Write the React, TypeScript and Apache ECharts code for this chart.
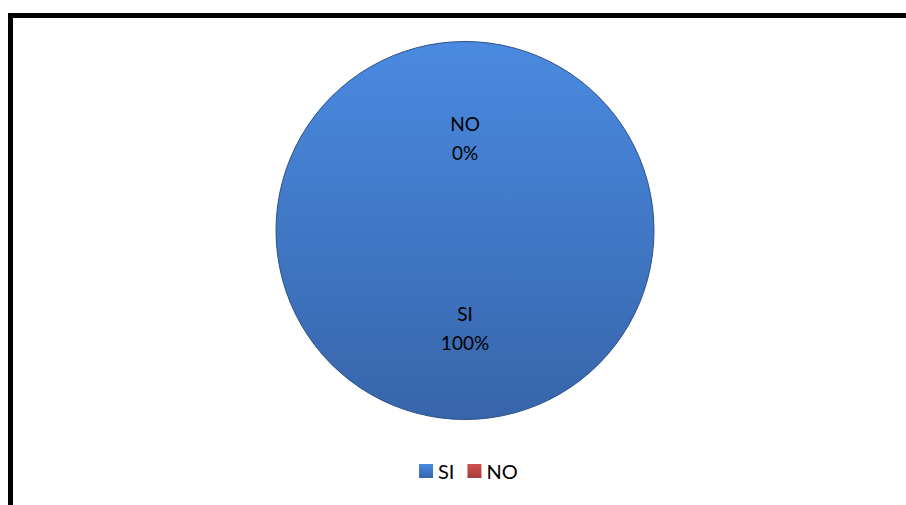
import React, { useEffect, useRef } from "react";
import * as echarts from "echarts";

const categories = ["SI", "NO"];
const values = [100, 0];
const labelsPct = ["100%", "0%"];

export default function App() {
  const ref = useRef<HTMLDivElement>(null);
  useEffect(() => {
    if (!ref.current) return;
    const chart = echarts.init(ref.current, null, { renderer: "svg" });
    const font = "Lato, 'Open Sans', sans-serif";
    const colors = [
      new echarts.graphic.LinearGradient(0, 0, 0, 1, [
        { offset: 0, color: "#4a8ae0" },
        { offset: 1, color: "#3765aa" },
      ]),
      new echarts.graphic.LinearGradient(0, 0, 0, 1, [
        { offset: 0, color: "#d0504c" },
        { offset: 1, color: "#a83a38" },
      ]),
    ];
    chart.setOption({
      animation: false,
      backgroundColor: "#ffffff",
      graphic: [
        {
          type: "rect",
          shape: { x: 10.5, y: 15.5, width: 1000, height: 600 },
          style: { fill: "none", stroke: "#000", lineWidth: 5 },
          silent: true,
        },
        {
          type: "circle",
          shape: { cx: 465, cy: 230.5, r: 189 },
          style: { fill: "none", stroke: "#2d5188", lineWidth: 1 },
          silent: true,
          z: 10,
        },
      ],
      legend: {
        data: categories,
        left: 414,
        top: 456,
        itemWidth: 14,
        itemHeight: 14,
        itemGap: 13,
        icon: "rect",
        textStyle: { fontFamily: font, fontSize: 20, color: "#000" },
      },
      series: [
        {
          type: "pie",
          center: [465, 230.5],
          radius: [0, 189],
          startAngle: 90,
          clockwise: true,
          avoidLabelOverlap: false,
          minShowLabelAngle: 0,
          itemStyle: { borderWidth: 0 },
          label: {
            show: true,
            position: "inner",
            fontFamily: font,
            fontSize: 19,
            lineHeight: 29,
            color: "#000",
            formatter: (p: any) => `${p.name}\n${labelsPct[p.dataIndex]}`,
          },
          labelLine: { show: false },
          data: categories.map((c, i) => ({
            name: c,
            value: values[i],
            itemStyle: { color: colors[i] },
            label: { offset: i === 1 ? [0, 5] : [0, 0] },
          })),
        },
      ],
    });
    return () => chart.dispose();
  }, []);
  return (
    <div
      ref={ref}
      style={{ position: "fixed", left: 0, top: 0, width: 906, height: 505 }}
    />
  );
}
